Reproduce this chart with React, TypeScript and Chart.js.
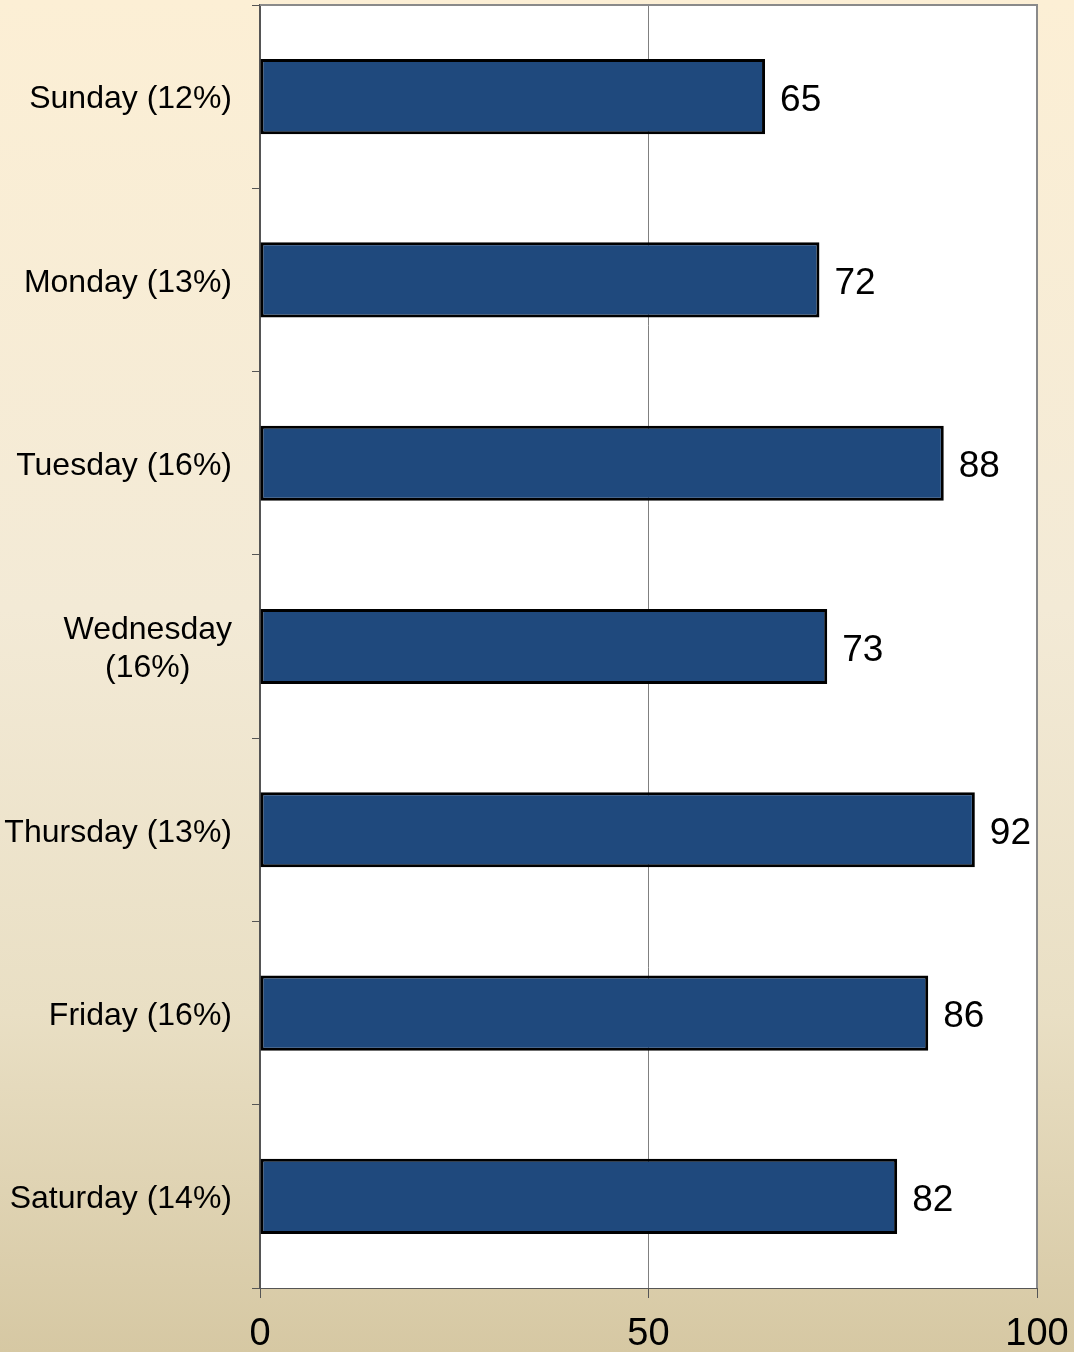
import React, { useEffect, useRef } from "react";
import { Chart, registerables } from "chart.js";

Chart.register(...registerables);

const categories: string[][] = [
  ["Sunday (12%)"],
  ["Monday (13%)"],
  ["Tuesday (16%)"],
  ["Wednesday", "(16%)"],
  ["Thursday (13%)"],
  ["Friday (16%)"],
  ["Saturday (14%)"],
];
const values: number[] = [65, 72, 88, 73, 92, 86, 82];
const xTickValues: number[] = [0, 50, 100];

const FONT = "'Liberation Sans', Arial, Helvetica, sans-serif";

export default function App() {
  const canvasRef = useRef<HTMLCanvasElement | null>(null);

  useEffect(() => {
    if (!canvasRef.current) return;

    const plotBg = {
      id: "plotBg",
      beforeDraw(chart: any) {
        const { ctx, chartArea } = chart;
        ctx.save();
        ctx.fillStyle = "#ffffff";
        ctx.fillRect(chartArea.left, chartArea.top, chartArea.right - chartArea.left, chartArea.bottom - chartArea.top);
        ctx.restore();
      },
      afterDraw(chart: any) {
        const { ctx, chartArea } = chart;
        ctx.save();
        ctx.strokeStyle = "#8a8a8a";
        ctx.lineWidth = 2;
        ctx.beginPath();
        ctx.moveTo(chartArea.left, chartArea.top);
        ctx.lineTo(chartArea.right, chartArea.top);
        ctx.lineTo(chartArea.right, chartArea.bottom);
        ctx.stroke();
        ctx.restore();
      },
    };

    const yLabels = {
      id: "yLabels",
      afterDraw(chart: any) {
        const { ctx } = chart;
        const scale = chart.scales.y;
        const rightEdge = scale.right - 28;
        const lh = 38;
        ctx.save();
        ctx.font = `32px ${FONT}`;
        ctx.fillStyle = "#000000";
        ctx.textAlign = "center";
        ctx.textBaseline = "middle";
        categories.forEach((lines, i) => {
          const y = scale.getPixelForTick(i) + 3;
          const w = Math.max(...lines.map((l) => ctx.measureText(l).width));
          const cx = rightEdge - w / 2;
          lines.forEach((l, j) => {
            ctx.fillText(l, cx, y + (j - (lines.length - 1) / 2) * lh);
          });
        });
        ctx.restore();
      },
    };

    const dataLabels = {
      id: "dataLabels",
      afterDatasetsDraw(chart: any) {
        const { ctx } = chart;
        const meta = chart.getDatasetMeta(0);
        ctx.save();
        ctx.font = `37px ${FONT}`;
        ctx.fillStyle = "#000000";
        ctx.textAlign = "left";
        ctx.textBaseline = "middle";
        meta.data.forEach((bar: any, i: number) => {
          ctx.fillText(String(values[i]), bar.x + 15, bar.y + 4);
        });
        ctx.restore();
      },
    };

    const chart = new Chart(canvasRef.current, {
      type: "bar",
      data: {
        labels: categories.map((c) => c.join(" ")),
        datasets: [
          {
            data: values,
            backgroundColor: "#1F497D",
            borderColor: "#000000",
            borderWidth: 3,
            borderSkipped: false,
            barPercentage: 0.41,
            categoryPercentage: 1.0,
          },
        ],
      },
      options: {
        indexAxis: "y",
        responsive: false,
        animation: false,
        layout: { padding: { top: 5, right: 37, left: 0, bottom: 0 } },
        plugins: {
          legend: { display: false },
          tooltip: { enabled: false },
        },
        scales: {
          x: {
            type: "linear",
            min: 0,
            max: 100,
            afterBuildTicks(scale: any) {
              scale.ticks = xTickValues.map((v) => ({ value: v }));
            },
            afterFit(scale: any) {
              scale.height = 64;
              scale.paddingRight = 0;
              scale.paddingLeft = 0;
            },
            grid: {
              color: (ctx: any) => (ctx.tick && ctx.tick.value === 50 ? "#808080" : "rgba(0,0,0,0)"),
              tickColor: "#555555",
              tickLength: 10,
              lineWidth: 1,
            },
            border: { color: "#555555", width: 1 },
            ticks: {
              color: "#000000",
              font: { family: FONT, size: 38, lineHeight: 1.2 },
              padding: 14,
              maxRotation: 0,
            },
          },
          y: {
            type: "category",
            offset: true,
            afterFit(scale: any) {
              scale.width = 260;
              scale.paddingTop = 0;
              scale.paddingBottom = 0;
            },
            grid: {
              offset: true,
              drawOnChartArea: false,
              tickColor: "#555555",
              tickLength: 8,
            },
            border: { color: "#555555", width: 2 },
            ticks: {
              color: "rgba(0,0,0,0)",
              font: { family: FONT, size: 1 },
            },
          },
        },
      },
      plugins: [plotBg, yLabels, dataLabels],
    } as any);

    return () => chart.destroy();
  }, []);

  return (
    <div
      style={{
        position: "fixed",
        left: 0,
        top: 0,
        width: 1074,
        height: 1352,
        background: "linear-gradient(to bottom, #FCEFD5 0%, #F3EAD6 45%, #E9DFC4 75%, #D6C8A3 100%)",
      }}
    >
      <canvas ref={canvasRef} width={1074} height={1352} style={{ display: "block" }} />
    </div>
  );
}
